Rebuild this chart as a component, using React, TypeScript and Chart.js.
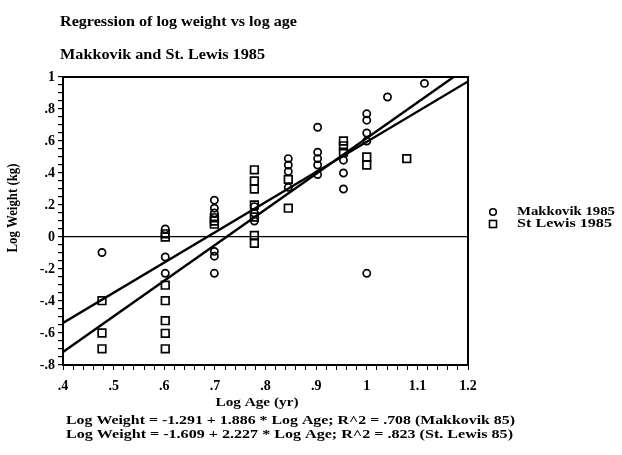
import React, { useEffect, useRef } from 'react';
import { Chart, registerables } from 'chart.js';

Chart.register(...registerables);

// ---- Text ----
const TITLE = 'Regression of log weight vs log age';
const SUBTITLE = 'Makkovik and St. Lewis 1985';
const X_TITLE = 'Log Age (yr)';
const Y_TITLE = 'Log Weight (kg)';
const SERIES_NAMES = ['Makkovik 1985', 'St Lewis 1985'];
const EQUATIONS = [
  'Log Weight = -1.291 + 1.886 * Log Age; R^2 = .708 (Makkovik 85)',
  'Log Weight = -1.609 + 2.227 * Log Age; R^2 = .823 (St. Lewis 85)',
];

// ---- Data (log10 age, log10 weight) ----
const makX = [
  0.477,
  0.602, 0.602, 0.602,
  0.699, 0.699, 0.699, 0.699, 0.699, 0.699,
  0.778, 0.778, 0.778,
  0.845, 0.845, 0.845, 0.845,
  0.903, 0.903, 0.903, 0.903, 0.903,
  0.954, 0.954, 0.954,
  1.0, 1.0, 1.0, 1.0, 1.0,
  1.041,
  1.114,
];
const makY = [
  -0.097,
  0.05, -0.125, -0.227,
  0.23, 0.18, 0.15, -0.09, -0.12, -0.227,
  0.19, 0.15, 0.1,
  0.49, 0.45, 0.41, 0.31,
  0.686, 0.53, 0.49, 0.45, 0.39,
  0.48, 0.4, 0.3,
  0.77, 0.73, 0.65, 0.6, -0.227,
  0.875,
  0.96,
];
const stlX = [
  0.477, 0.477, 0.477,
  0.602, 0.602, 0.602, 0.602, 0.602, 0.602, 0.602,
  0.699, 0.699, 0.699,
  0.778, 0.778, 0.778, 0.778, 0.778, 0.778, 0.778,
  0.845, 0.845,
  0.954, 0.954, 0.954,
  1.0, 1.0,
  1.079,
];
const stlY = [
  -0.398, -0.6, -0.699,
  0.02, 0.0, -0.301, -0.398, -0.523, -0.602, -0.699,
  0.12, 0.1, 0.08,
  0.42, 0.35, 0.3, 0.2, 0.125, 0.01, -0.04,
  0.36, 0.18,
  0.6, 0.57, 0.53,
  0.5, 0.45,
  0.49,
];

// Regression fits (intercept, slope) as printed under the chart
const makFit = [-1.291, 1.886];
const stlFit = [-1.609, 2.227];

const X_MIN = 0.4;
const X_MAX = 1.2;
const Y_MIN = -0.8;
const Y_MAX = 1;

const FONT = 'Liberation Serif';

function fitLine(fit: number[]) {
  const [a, b] = fit;
  const xEnd = Math.min(X_MAX, (Y_MAX - a) / b);
  return [
    { x: X_MIN, y: a + b * X_MIN },
    { x: xEnd, y: a + b * xEnd },
  ];
}

function fmt(v: number) {
  const r = Math.round(v * 100) / 100;
  if (r === 0) return '0';
  const abs = Math.abs(r);
  let s = String(abs);
  if (abs < 1) s = s.replace(/^0/, '');
  return (r < 0 ? '-' : '') + s;
}

function isMultiple(v: number, step: number) {
  const q = v / step;
  return Math.abs(q - Math.round(q)) < 1e-6;
}

// draw text stretched horizontally so that it spans `width` pixels
function drawFit(
  ctx: CanvasRenderingContext2D,
  text: string,
  x: number,
  y: number,
  size: number,
  width: number,
  align: 'left' | 'center',
  rotate = false,
) {
  ctx.save();
  ctx.font = `bold ${size}px "${FONT}"`;
  ctx.textBaseline = 'middle';
  ctx.textAlign = align;
  const w = ctx.measureText(text).width;
  const s = width / w;
  ctx.translate(x, y);
  if (rotate) ctx.rotate(-Math.PI / 2);
  ctx.scale(s, 1);
  ctx.fillText(text, 0, 0);
  ctx.restore();
}

const textPlugin = {
  id: 'textPlugin',
  afterDraw(chart: any) {
    const ctx = chart.ctx as CanvasRenderingContext2D;
    const area = chart.chartArea;
    ctx.save();
    // frame top and right
    ctx.strokeStyle = '#000';
    ctx.lineWidth = 2;
    ctx.beginPath();
    ctx.moveTo(area.left, area.top);
    ctx.lineTo(area.right, area.top);
    ctx.lineTo(area.right, area.bottom);
    ctx.stroke();

    ctx.fillStyle = '#000';
    drawFit(ctx, TITLE, 60, 22, 14, 237, 'left');
    drawFit(ctx, SUBTITLE, 60, 55, 14, 205, 'left');

    // axis titles
    drawFit(ctx, X_TITLE, 257, 403, 13, 83, 'center');
    drawFit(ctx, Y_TITLE, 13, 208, 14, 89, 'center', true);

    // equations
    drawFit(ctx, EQUATIONS[0], 66, 421, 12.5, 449, 'left');
    drawFit(ctx, EQUATIONS[1], 66, 435, 12.5, 447, 'left');

    // legend
    ctx.strokeStyle = '#000';
    ctx.lineWidth = 1.6;
    ctx.beginPath();
    ctx.arc(493, 212, 3.3, 0, Math.PI * 2);
    ctx.stroke();
    ctx.strokeRect(489.5, 220.5, 7, 7);
    drawFit(ctx, SERIES_NAMES[0], 517, 212, 12.5, 98, 'left');
    drawFit(ctx, SERIES_NAMES[1], 517, 224, 12.5, 95, 'left');
    ctx.restore();
  },
};

export default function App() {
  const canvasRef = useRef<HTMLCanvasElement | null>(null);

  useEffect(() => {
    const canvas = canvasRef.current;
    if (!canvas) return;
    const makPts = makX.map((x, i) => ({ x, y: makY[i] }));
    const stlPts = stlX.map((x, i) => ({ x, y: stlY[i] }));

    const chart = new Chart(canvas, {
      type: 'scatter',
      data: {
        datasets: [
          {
            label: SERIES_NAMES[0],
            data: makPts,
            pointStyle: 'circle',
            pointRadius: 3.6,
            borderColor: '#000',
            backgroundColor: 'rgba(255,255,255,0)',
            borderWidth: 1.7,
          },
          {
            label: SERIES_NAMES[1],
            data: stlPts,
            pointStyle: 'rect',
            pointRadius: 5.4,
            borderColor: '#000',
            backgroundColor: 'rgba(255,255,255,0)',
            borderWidth: 1.7,
          },
          {
            type: 'line',
            label: 'Makkovik fit',
            data: fitLine(makFit),
            borderColor: '#000',
            borderWidth: 2.4,
            pointRadius: 0,
            fill: false,
            showLine: true,
          } as any,
          {
            type: 'line',
            label: 'St. Lewis fit',
            data: fitLine(stlFit),
            borderColor: '#000',
            borderWidth: 2.4,
            pointRadius: 0,
            fill: false,
            showLine: true,
          } as any,
        ],
      },
      options: {
        animation: false,
        responsive: false,
        layout: { padding: { left: 0, top: 77, right: 154, bottom: 0 } },
        plugins: {
          legend: { display: false },
          title: { display: false },
          tooltip: { enabled: false },
        },
        scales: {
          x: {
            type: 'linear',
            min: X_MIN,
            max: X_MAX,
            afterFit: (scale: any) => {
              scale.height = 90;
            },
            border: { display: true, color: '#000', width: 2 },
            grid: {
              drawOnChartArea: false,
              drawTicks: true,
              tickLength: 5,
              tickColor: '#000',
              color: '#000',
            },
            ticks: {
              stepSize: 0.02,
              autoSkip: false,
              maxTicksLimit: 200,
              maxRotation: 0,
              padding: 8,
              color: '#000',
              font: { family: FONT, size: 14, weight: 'bold' },
              callback: (value: any) => (isMultiple(Number(value), 0.1) ? fmt(Number(value)) : ''),
            },
          },
          y: {
            type: 'linear',
            min: Y_MIN,
            max: Y_MAX,
            afterFit: (scale: any) => {
              scale.width = 63;
            },
            border: { display: true, color: '#000', width: 2 },
            grid: {
              drawOnChartArea: true,
              drawTicks: true,
              tickLength: 5,
              tickColor: '#000',
              lineWidth: 1.2,
              color: (c: any) =>
                c.tick && Math.abs(c.tick.value) < 1e-6 ? '#000' : 'rgba(0,0,0,0)',
            },
            ticks: {
              stepSize: 0.05,
              autoSkip: false,
              maxTicksLimit: 200,
              padding: 3,
              color: '#000',
              font: { family: FONT, size: 14, weight: 'bold' },
              callback: (value: any) => (isMultiple(Number(value), 0.2) ? fmt(Number(value)) : ''),
            },
          },
        },
      },
      plugins: [textPlugin],
    });
    return () => chart.destroy();
  }, []);

  return (
    <div style={{ position: 'absolute', left: 0, top: 0, width: 622, height: 455, background: '#fff' }}>
      <canvas ref={canvasRef} width={622} height={455} style={{ display: 'block' }} />
    </div>
  );
}
